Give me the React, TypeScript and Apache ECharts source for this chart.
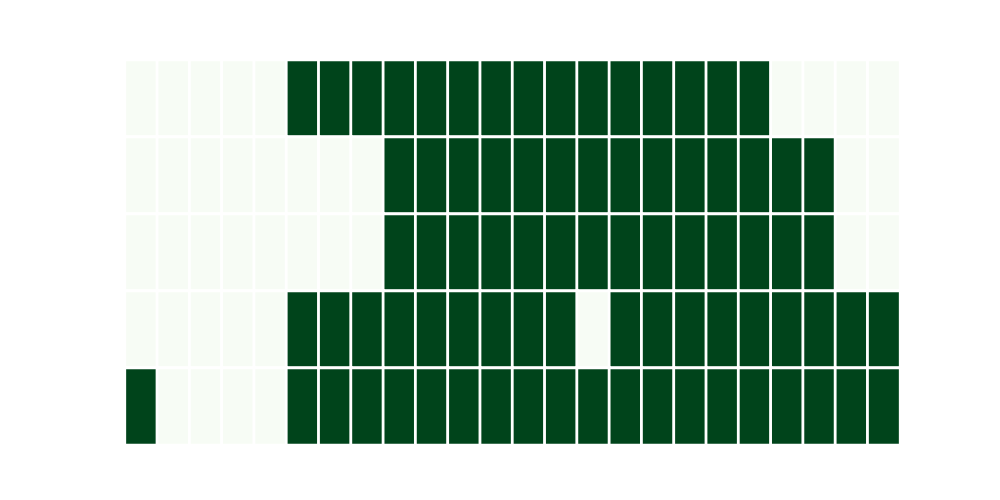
import React, { useEffect, useRef } from "react";
import * as echarts from "echarts";

const columns: string[] = [
  "0", "1", "2", "3", "4", "5", "6", "7", "8", "9", "10", "11",
  "12", "13", "14", "15", "16", "17", "18", "19", "20", "21", "22", "23",
];
const rows: string[] = ["r0", "r1", "r2", "r3", "r4"];

// 24 values each
const row0 = [0, 0, 0, 0, 0, 1, 1, 1, 1, 1, 1, 1, 1, 1, 1, 1, 1, 1, 1, 1, 0, 0, 0, 0];
const row1 = [0, 0, 0, 0, 0, 0, 0, 0, 1, 1, 1, 1, 1, 1, 1, 1, 1, 1, 1, 1, 1, 1, 0, 0];
const row2 = [0, 0, 0, 0, 0, 0, 0, 0, 1, 1, 1, 1, 1, 1, 1, 1, 1, 1, 1, 1, 1, 1, 0, 0];
const row3 = [0, 0, 0, 0, 0, 1, 1, 1, 1, 1, 1, 1, 1, 1, 0, 1, 1, 1, 1, 1, 1, 1, 1, 1];
const row4 = [1, 0, 0, 0, 0, 1, 1, 1, 1, 1, 1, 1, 1, 1, 1, 1, 1, 1, 1, 1, 1, 1, 1, 1];

const matrix = [row0, row1, row2, row3, row4];

export default function App() {
  const ref = useRef<HTMLDivElement>(null);
  useEffect(() => {
    document.body.style.margin = "0";
    if (!ref.current) return;
    const chart = echarts.init(ref.current, null, { renderer: "svg" });
    const data: number[][] = [];
    matrix.forEach((r, y) => r.forEach((v, x) => data.push([x, y, v])));
    chart.setOption({
      animation: false,
      backgroundColor: "#ffffff",
      grid: { left: 125, right: 100, top: 60, bottom: 55 },
      xAxis: {
        type: "category",
        data: columns,
        show: false,
      },
      yAxis: {
        type: "category",
        data: rows,
        inverse: true,
        show: false,
      },
      visualMap: {
        show: false,
        min: 0,
        max: 1,
        inRange: { color: ["#f7fcf5", "#00441b"] },
      },
      series: [
        {
          type: "heatmap",
          data,
          itemStyle: { borderColor: "#ffffff", borderWidth: 2.8 },
          emphasis: { disabled: true },
        },
      ],
    });
    return () => chart.dispose();
  }, []);
  return <div ref={ref} style={{ width: 1000, height: 500 }} />;
}
